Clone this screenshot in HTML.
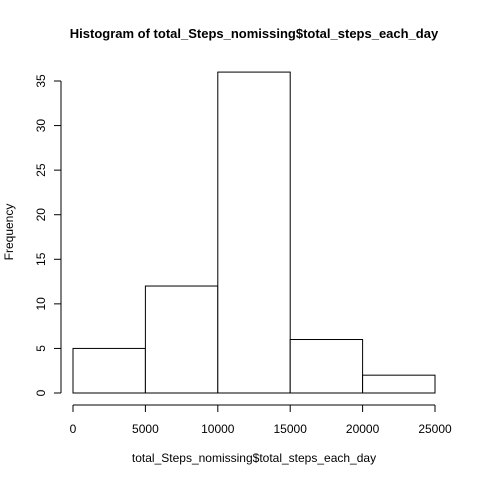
<!DOCTYPE html>
<html><head><meta charset="utf-8"><style>
body{margin:0;background:#fff}
svg{display:block;font-family:"Liberation Sans",Arial,sans-serif}
</style></head><body>
<svg id="chart" width="480" height="480">
<text x="254" y="38" text-anchor="middle" font-size="13" font-weight="bold">Histogram of total_Steps_nomissing$total_steps_each_day</text>
<text x="254" y="462" text-anchor="middle" font-size="12">total_Steps_nomissing$total_steps_each_day</text>
<text transform="translate(13,232) rotate(-90)" text-anchor="middle" font-size="12">Frequency</text>
<g id="bars"></g><g id="xaxis"></g><g id="yaxis"></g>
</svg>
<script>
const breaks=[0,5000,10000,15000,20000,25000];
const counts=[5,12,36,6,2];
const xTicks=[0,5000,10000,15000,20000,25000];
const yTicks=[0,5,10,15,20,25,30,35];
const ns="http://www.w3.org/2000/svg";
const X=v=>73+(v/25000)*362;
const Y=v=>393-(v/35)*312;
function mk(t,a,p){const e=document.createElementNS(ns,t);for(const k in a)e.setAttribute(k,a[k]);p.appendChild(e);return e;}
const bars=document.getElementById('bars');
counts.forEach((c,i)=>{
 const r=mk('rect',{x:X(breaks[i]),y:Y(c),width:X(breaks[i+1])-X(breaks[i]),height:Y(0)-Y(c),fill:'#fff',stroke:'#000','stroke-width':1},bars);
 
 
});
const xa=document.getElementById('xaxis');
const xl=mk('line',{x1:X(xTicks[0]),x2:X(xTicks[xTicks.length-1]),y1:405,y2:405,stroke:'#000'},xa);


xTicks.forEach(t=>{
 mk('line',{x1:X(t),x2:X(t),y1:405,y2:412,stroke:'#000'},xa);
 const tx=mk('text',{x:X(t),y:433,'text-anchor':'middle','font-size':12},xa);tx.textContent=t;
 
 
});
const ya=document.getElementById('yaxis');
const yl=mk('line',{x1:61,x2:61,y1:Y(yTicks[0]),y2:Y(yTicks[yTicks.length-1]),stroke:'#000'},ya);


yTicks.forEach(t=>{
 mk('line',{x1:54,x2:61,y1:Y(t),y2:Y(t),stroke:'#000'},ya);
 const tx=mk('text',{transform:`translate(45,${Y(t)}) rotate(-90)`,'text-anchor':'middle','font-size':12},ya);tx.textContent=t;
 
 
});
</script>
</body></html>
